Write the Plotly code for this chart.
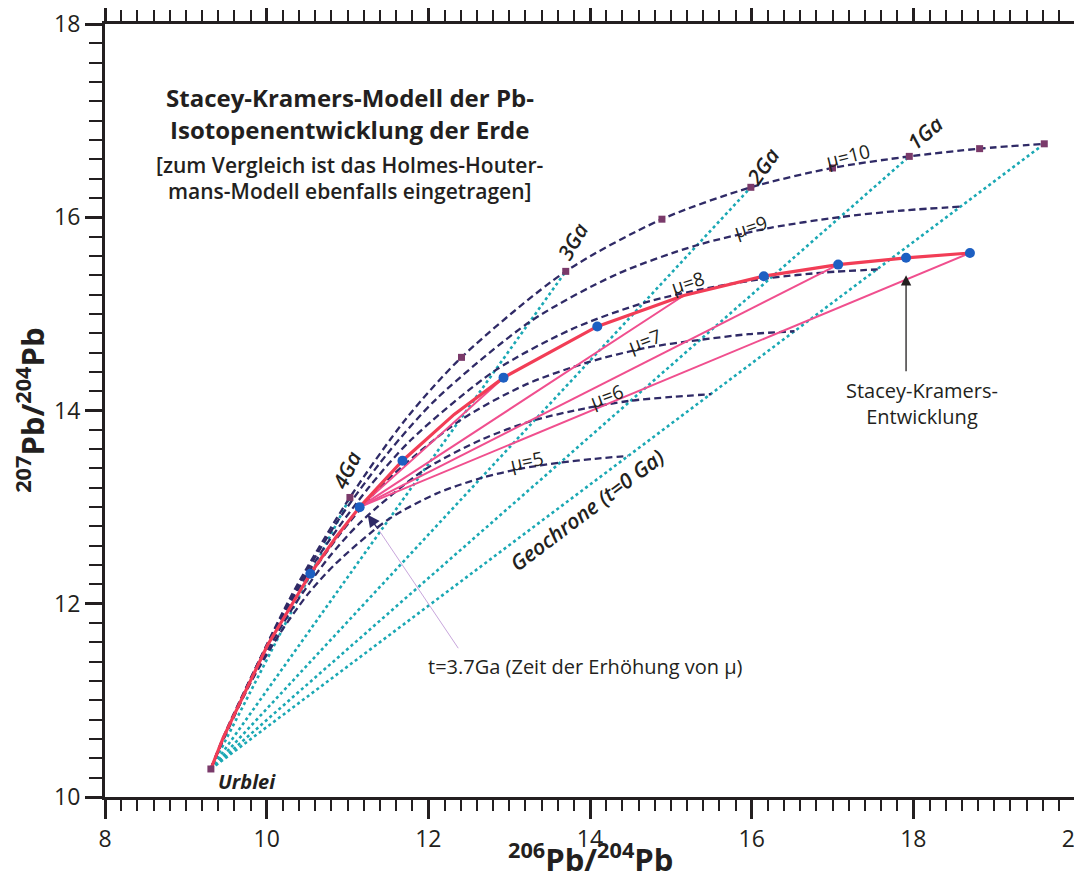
import plotly.graph_objects as go

# ---------------- data ----------------
# Holmes-Houtermans growth curves (t = 4.57, 4.5, 4.25, 4.0, 3.75, 3.5, 3.0, 2.5, 2.0, 1.5, 1.0, 0.5, 0 Ga)
mu5_x = [9.31, 9.42, 9.80, 10.17, 10.52, 10.86, 11.50, 12.10, 12.65, 13.16, 13.63, 14.06, 14.47]
mu5_y = [10.29, 10.51, 11.18, 11.70, 12.11, 12.42, 12.87, 13.14, 13.30, 13.40, 13.46, 13.50, 13.53]
mu6_x = [9.31, 9.44, 9.90, 10.34, 10.76, 11.17, 11.94, 12.66, 13.31, 13.93, 14.49, 15.01, 15.50]
mu6_y = [10.29, 10.56, 11.35, 11.98, 12.47, 12.85, 13.38, 13.70, 13.90, 14.02, 14.10, 14.14, 14.17]
mu7_x = [9.31, 9.46, 9.99, 10.51, 11.01, 11.48, 12.38, 13.21, 13.98, 14.70, 15.35, 15.96, 16.53]
mu7_y = [10.29, 10.60, 11.53, 12.26, 12.83, 13.27, 13.89, 14.27, 14.50, 14.65, 14.73, 14.79, 14.82]
mu8_x = [9.31, 9.48, 10.09, 10.68, 11.25, 11.79, 12.82, 13.77, 14.65, 15.47, 16.22, 16.92, 17.56]
mu8_y = [10.29, 10.64, 11.71, 12.54, 13.19, 13.70, 14.41, 14.84, 15.11, 15.27, 15.37, 15.43, 15.46]
mu9_x = [9.31, 9.50, 10.19, 10.85, 11.49, 12.10, 13.26, 14.33, 15.32, 16.23, 17.08, 17.87, 18.59]
mu9_y = [10.29, 10.69, 11.88, 12.82, 13.55, 14.12, 14.92, 15.41, 15.71, 15.89, 16.00, 16.07, 16.11]
mu10_x = [9.31, 9.53, 10.29, 11.03, 11.73, 12.41, 13.70, 14.89, 15.99, 17.00, 17.95, 18.82, 19.62]
mu10_y = [10.29, 10.73, 12.06, 13.10, 13.92, 14.55, 15.44, 15.98, 16.31, 16.51, 16.63, 16.71, 16.76]
mu_labels = ["μ=5", "μ=6", "μ=7", "μ=8", "μ=9", "μ=10"]

# square markers on the mu=10 curve (Urblei, 4.0, 3.5, ... 0 Ga)
hh_mark_x = [9.31, 11.03, 12.41, 13.70, 14.89, 15.99, 17.00, 17.95, 18.82, 19.62]
hh_mark_y = [10.29, 13.10, 14.55, 15.44, 15.98, 16.31, 16.51, 16.63, 16.71, 16.76]

# Urblei (primordial lead)
urblei_x = 9.31
urblei_y = 10.29

# isochrons from Urblei
iso_labels = ["4Ga", "3Ga", "2Ga", "1Ga", "0Ga"]
iso_end_x = [11.03, 13.70, 15.99, 17.95, 19.62]
iso_end_y = [13.10, 15.44, 16.31, 16.63, 16.76]

# Stacey-Kramers two-stage evolution
sk_x = [9.31, 9.46, 10.01, 10.54, 10.85, 11.15, 11.68, 12.32, 12.93, 14.09, 15.16, 16.15, 17.07, 17.91, 18.70]
sk_y = [10.29, 10.61, 11.57, 12.31, 12.68, 13.00, 13.48, 13.96, 14.34, 14.87, 15.19, 15.39, 15.51, 15.58, 15.63]
sk_dot_x = [10.54, 11.15, 11.68, 12.93, 14.09, 16.15, 17.07, 17.91, 18.70]
sk_dot_y = [12.31, 13.00, 13.48, 14.34, 14.87, 15.39, 15.51, 15.58, 15.63]

# secondary lines from the 3.7 Ga point
p37_x = 11.15
p37_y = 13.00
sec_end_x = [12.93, 15.16, 17.07, 18.70]
sec_end_y = [14.34, 15.19, 15.51, 15.63]

# axis ticks
x_tickvals = [8, 10, 12, 14, 16, 18, 20]
y_tickvals = [10, 12, 14, 16, 18]

# ---------------- styles ----------------
INK = "#231f20"
NAVY = "#2f2a66"
CYAN = "#1aa8b4"
RED = "#f23d56"
PINK = "#f04f8e"
BLUE = "#1d5fc2"
PURPLE = "#7a3a6a"
FONT = "Open Sans"

fig = go.Figure()

# isochrons (cyan dotted)
for ex, ey in zip(iso_end_x, iso_end_y):
    fig.add_trace(go.Scatter(x=[urblei_x, ex], y=[urblei_y, ey], mode="lines",
                             line=dict(color=CYAN, width=2.6, dash="dot"),
                             hoverinfo="skip", showlegend=False))

# Holmes-Houtermans growth curves (navy dashed)
for cx, cy in [(mu5_x, mu5_y), (mu6_x, mu6_y), (mu7_x, mu7_y),
               (mu8_x, mu8_y), (mu9_x, mu9_y), (mu10_x, mu10_y)]:
    fig.add_trace(go.Scatter(x=cx, y=cy, mode="lines",
                             line=dict(color=NAVY, width=2.3, dash="7px,4px",
                                       shape="spline", smoothing=0.8),
                             hoverinfo="skip", showlegend=False))

# secondary lines (pink)
for ex, ey in zip(sec_end_x, sec_end_y):
    fig.add_trace(go.Scatter(x=[p37_x, ex], y=[p37_y, ey], mode="lines",
                             line=dict(color=PINK, width=2),
                             hoverinfo="skip", showlegend=False))

# Stacey-Kramers curve
fig.add_trace(go.Scatter(x=sk_x, y=sk_y, mode="lines",
                         line=dict(color=RED, width=3.2),
                         hoverinfo="skip", showlegend=False))
fig.add_trace(go.Scatter(x=sk_dot_x, y=sk_dot_y, mode="markers",
                         marker=dict(color=BLUE, size=10, symbol="circle"),
                         showlegend=False))

# square markers
fig.add_trace(go.Scatter(x=hh_mark_x, y=hh_mark_y, mode="markers",
                         marker=dict(color=PURPLE, size=7, symbol="square"),
                         showlegend=False))

annotations = []

def label(text, x, y, angle=0, size=19, italic=False, weight="normal", color=INK, align="center"):
    annotations.append(dict(
        x=x, y=y, xref="x", yref="y", text=text, showarrow=False,
        textangle=angle, align=align,
        font=dict(family=FONT, size=size, color=color, weight=weight,
                  style="italic" if italic else "normal"),
        xanchor="center", yanchor="middle"))

# title block
label("Stacey-Kramers-Modell der Pb-", 11.03, 17.24, size=24, weight="bold")
label("Isotopenentwicklung der Erde", 11.03, 16.91, size=24, weight="bold")
label("[zum Vergleich ist das Holmes-Houter-", 11.03, 16.54, size=21, weight=600)
label("mans-Modell ebenfalls eingetragen]", 11.03, 16.27, size=21, weight=600)

# isochron ages
label(iso_labels[0], 10.99, 13.38, angle=-65, size=21, italic=True, weight=600)
label(iso_labels[1], 13.79, 15.75, angle=-60, size=21, italic=True, weight=600)
label(iso_labels[2], 16.14, 16.53, angle=-55, size=21, italic=True, weight=600)
label(iso_labels[3], 18.14, 16.87, angle=-40, size=21, italic=True, weight=600)

# mu labels
label(mu_labels[5], 17.19, 16.63, angle=-14, size=19)
label(mu_labels[4], 15.98, 15.90, angle=-18, size=19)
label(mu_labels[3], 15.20, 15.32, angle=-18, size=19)
label(mu_labels[2], 14.67, 14.72, angle=-20, size=19)
label(mu_labels[1], 14.21, 14.15, angle=-20, size=19)
label(mu_labels[0], 13.22, 13.48, angle=-12, size=19)

label("Geochrone (t=0 Ga)", 13.96, 12.97, angle=-37, size=21, italic=True, weight=600)
label("Urblei", 9.76, 10.16, size=20, italic=True, weight="bold")
label("Stacey-Kramers-<br>Entwicklung", 18.11, 14.07, size=20)
label("t=3.7Ga (Zeit der Erhöhung von μ)", 13.94, 11.35, size=20)

# axis titles
annotations.append(dict(x=0.5, y=-0.078, xref="paper", yref="paper", showarrow=False,
                        text="<b><sup>206</sup>Pb/<sup>204</sup>Pb</b>",
                        font=dict(family=FONT, size=31, color=INK),
                        xanchor="center", yanchor="middle"))
annotations.append(dict(x=-0.077, y=0.5, xref="paper", yref="paper", showarrow=False,
                        text="<b><sup>207</sup>Pb/<sup>204</sup>Pb</b>", textangle=-90,
                        font=dict(family=FONT, size=31, color=INK),
                        xanchor="center", yanchor="middle"))

# arrows
annotations.append(dict(x=17.91, y=15.40, ax=17.91, ay=14.39, xref="x", yref="y",
                        axref="x", ayref="y", text="", showarrow=True,
                        arrowhead=2, arrowsize=1.6, arrowwidth=1.3, arrowcolor=INK))
annotations.append(dict(x=11.25, y=12.92, ax=11.39, ay=12.76, xref="x", yref="y",
                        axref="x", ayref="y", text="", showarrow=True,
                        arrowhead=2, arrowsize=1.6, arrowwidth=1.5, arrowcolor=NAVY))

shapes = [dict(type="line", xref="x", yref="y", x0=11.39, y0=12.76, x1=12.37, y1=11.54,
               line=dict(color="#c8a6dc", width=1))]

axis_common = dict(showline=True, linewidth=3, linecolor=INK, mirror="ticks",
                   ticks="outside", tickwidth=2.5, tickcolor=INK, showgrid=False,
                   zeroline=False, automargin=False, ticklabeloverflow="allow",
                   tickfont=dict(family=FONT, size=23, color=INK))

fig.update_layout(
    width=1082, height=883,
    margin=dict(l=97, r=15, t=16, b=94),
    paper_bgcolor="white", plot_bgcolor="white",
    showlegend=False,
    xaxis=dict(range=[8, 20], tickmode="array", tickvals=x_tickvals,
               ticklen=19,
               minor=dict(dtick=0.2, tick0=8, ticklen=11, tickwidth=2, ticks="outside", tickcolor=INK),
               **axis_common),
    yaxis=dict(range=[10, 18], tickmode="array", tickvals=y_tickvals,
               ticklen=17,
               minor=dict(dtick=0.2, tick0=10, ticklen=13, tickwidth=2, ticks="outside", tickcolor=INK),
               **axis_common),
    annotations=annotations,
    shapes=shapes,
)

fig.write_html("out.html")
